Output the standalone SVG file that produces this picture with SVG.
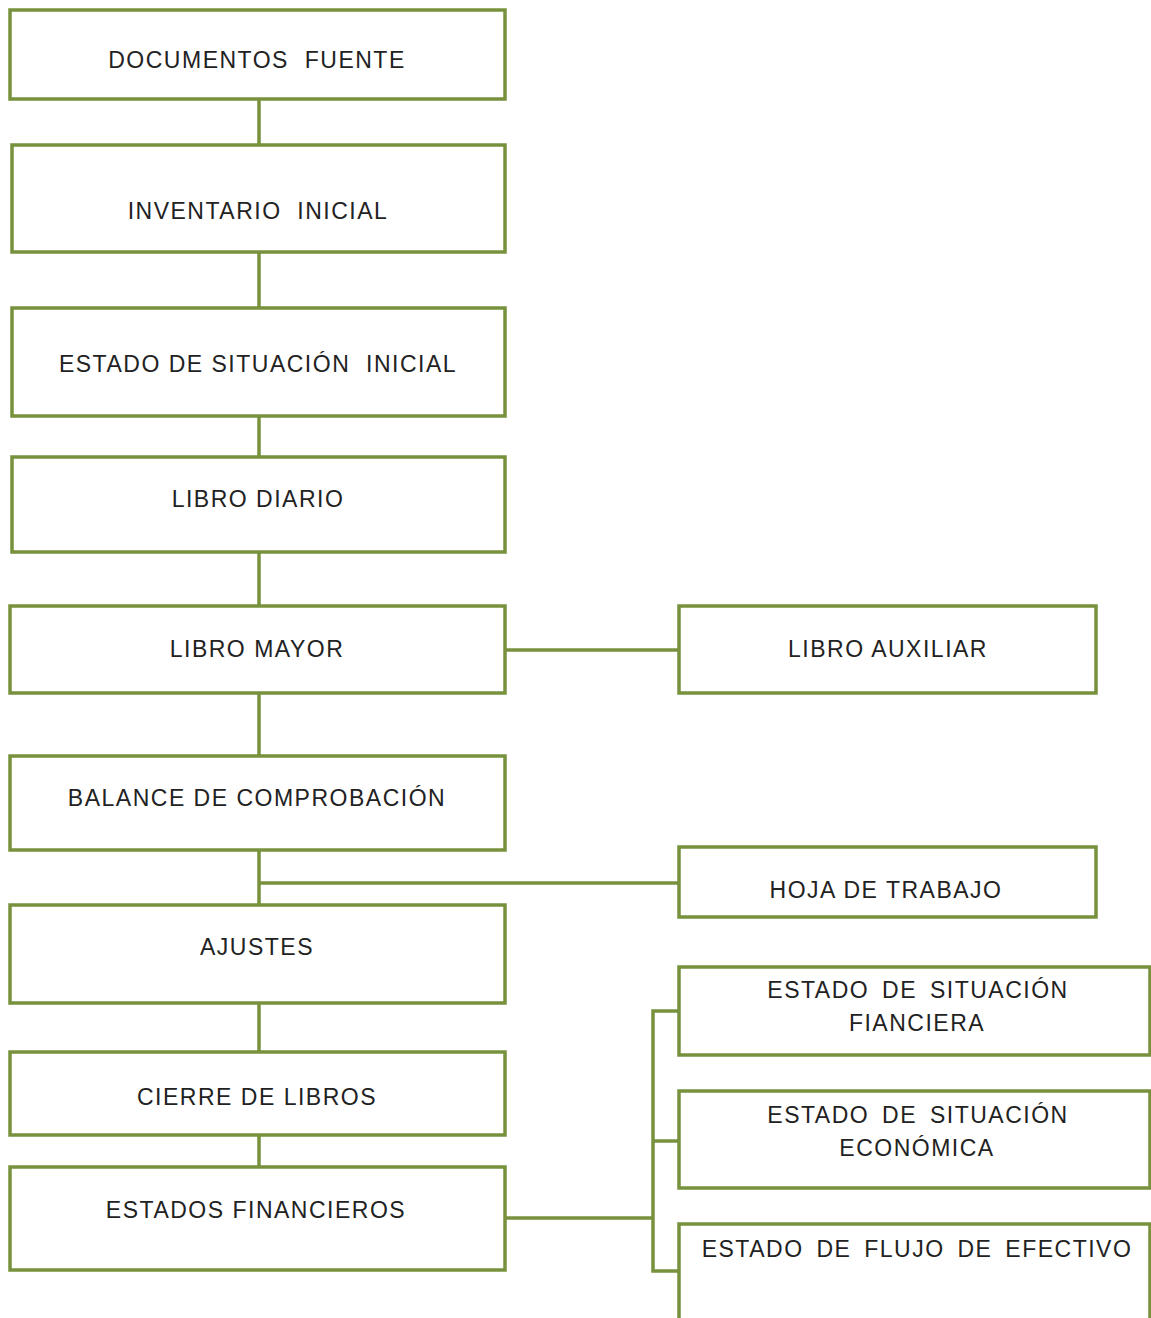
<svg xmlns="http://www.w3.org/2000/svg" width="1151" height="1318" viewBox="0 0 1151 1318">
<style>
.box{fill:#ffffff;stroke:#77913c;stroke-width:3.5}
.ln{fill:none;stroke:#77913c;stroke-width:3.5}
.t{font-family:"Liberation Sans",Arial,sans-serif;font-size:23px;letter-spacing:1.5px;fill:#222222;text-anchor:middle;white-space:pre}
.w{word-spacing:5px}
</style>
<rect width="1151" height="1318" fill="#ffffff"/>
<g id="connectors">
<line class="ln" x1="259" y1="99" x2="259" y2="145"/>
<line class="ln" x1="259" y1="252" x2="259" y2="308"/>
<line class="ln" x1="259" y1="416" x2="259" y2="457"/>
<line class="ln" x1="259" y1="552" x2="259" y2="606"/>
<line class="ln" x1="259" y1="693" x2="259" y2="756"/>
<line class="ln" x1="505" y1="650" x2="679" y2="650"/>
<line class="ln" x1="259" y1="850" x2="259" y2="905"/>
<line class="ln" x1="259" y1="883" x2="679" y2="883"/>
<line class="ln" x1="259" y1="1003" x2="259" y2="1052"/>
<line class="ln" x1="259" y1="1135" x2="259" y2="1167"/>
<line class="ln" x1="505" y1="1218" x2="653" y2="1218"/>
<polyline class="ln" points="679,1011 653,1011 653,1271 679,1271"/>
<line class="ln" x1="653" y1="1141" x2="679" y2="1141"/>
</g>
<g id="n1"><rect class="box" x="10" y="10" width="495" height="89"/><text class="t" x="257" y="68" xml:space="preserve">DOCUMENTOS  FUENTE</text></g>
<g id="n2"><rect class="box" x="12" y="145" width="493" height="107"/><text class="t" x="258" y="219" xml:space="preserve">INVENTARIO  INICIAL</text></g>
<g id="n3"><rect class="box" x="12" y="308" width="493" height="108"/><text class="t" x="258" y="372" xml:space="preserve">ESTADO DE SITUACIÓN  INICIAL</text></g>
<g id="n4"><rect class="box" x="12" y="457" width="493" height="95"/><text class="t" x="258" y="507">LIBRO DIARIO</text></g>
<g id="n5"><rect class="box" x="10" y="606" width="495" height="87"/><text class="t" x="257" y="657">LIBRO MAYOR</text></g>
<g id="n6"><rect class="box" x="679" y="606" width="417" height="87"/><text class="t" x="888" y="657">LIBRO AUXILIAR</text></g>
<g id="n7"><rect class="box" x="10" y="756" width="495" height="94"/><text class="t" x="257" y="806">BALANCE DE COMPROBACIÓN</text></g>
<g id="n8"><rect class="box" x="679" y="847" width="417" height="70"/><text class="t" x="886" y="898">HOJA DE TRABAJO</text></g>
<g id="n9"><rect class="box" x="10" y="905" width="495" height="98"/><text class="t" x="257" y="955">AJUSTES</text></g>
<g id="n10"><rect class="box" x="10" y="1052" width="495" height="83"/><text class="t" x="257" y="1105">CIERRE DE LIBROS</text></g>
<g id="n11"><rect class="box" x="10" y="1167" width="495" height="103"/><text class="t" x="256" y="1218">ESTADOS FINANCIEROS</text></g>
<g id="n12"><rect class="box" x="679" y="967" width="471" height="88"/><text class="t w" x="918" y="998">ESTADO DE SITUACIÓN</text><text class="t" x="917" y="1031">FIANCIERA</text></g>
<g id="n13"><rect class="box" x="679" y="1091" width="471" height="97"/><text class="t w" x="918" y="1123">ESTADO DE SITUACIÓN</text><text class="t" x="917" y="1156">ECONÓMICA</text></g>
<g id="n14"><rect class="box" x="679" y="1224" width="471" height="120"/><text class="t w" x="917" y="1257">ESTADO DE FLUJO DE EFECTIVO</text></g>
</svg>
